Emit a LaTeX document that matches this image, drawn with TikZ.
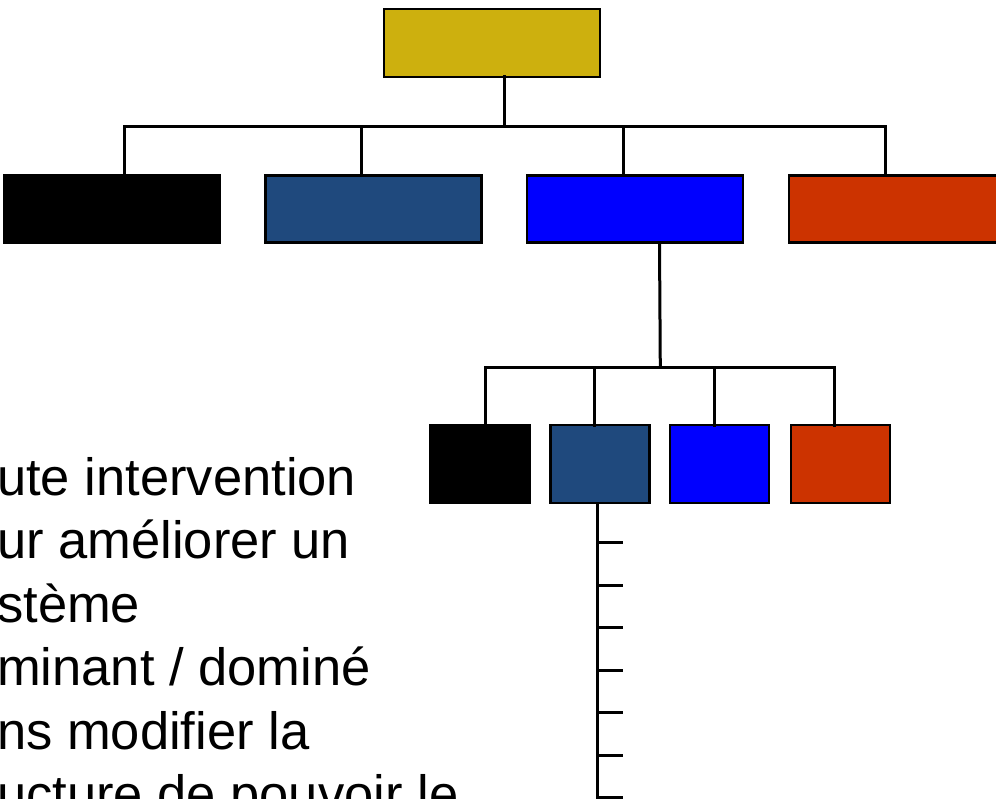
\documentclass[tikz,border=0pt]{standalone}
\usepackage{fontspec}
\setmainfont{Liberation Sans}
\definecolor{gold}{RGB}{205,176,14}
\definecolor{darkblue}{RGB}{31,73,125}
\definecolor{pureblue}{RGB}{0,0,255}
\definecolor{brick}{RGB}{204,51,0}
\begin{document}
\begin{tikzpicture}[x=1pt,y=-1pt,
  box/.style={draw=black,line width=2.2pt,inner sep=0pt,outer sep=0pt},
  wide/.style={box,minimum width=216pt,minimum height=67pt},
  small/.style={box,minimum width=99pt,minimum height=78pt},
  conn/.style={draw=black,line width=3pt,line cap=rect},
  txt/.style={anchor=base west,inner sep=0pt,font=\fontsize{52.5pt}{63.5pt}\selectfont}]
\useasboundingbox (0,0) rectangle (996,799);
\clip (0,0) rectangle (996,799);
% top
\node[box,fill=gold,minimum width=216pt,minimum height=68pt] (top) at (492,43) {};
% level 2
\node[wide,fill=black] (a1) at (112.3,209) {};
\node[wide,fill=darkblue] (a2) at (373.5,209) {};
\node[wide,fill=pureblue] (a3) at (635.3,209) {};
\node[wide,fill=brick] (a4) at (897,209) {};
% level 3
\node[small,fill=black] (c1) at (480,464) {};
\node[small,fill=darkblue] (c2) at (600,464) {};
\node[small,fill=pureblue] (c3) at (719.7,464) {};
\node[small,fill=brick] (c4) at (840.3,464) {};
% level 1 connectors
\coordinate (b0) at (504.3,126.5);
\coordinate (b1) at (124,126.5);
\coordinate (b2) at (361.3,126.5);
\coordinate (b3) at (623.7,126.5);
\coordinate (b4) at (885,126.5);
\draw[conn] (top.south -| b0) -- (b0);
\draw[conn] (b1 |- a1.north) -- (b1) -- (b4) -- (b4 |- a4.north);
\draw[conn] (b2) -- (b2 |- a2.north);
\draw[conn] (b3) -- (b3 |- a3.north);
% level 2 connectors
\coordinate (s0) at (659.5,243);
\coordinate (d0) at (660.3,367.3);
\coordinate (d1) at (485,367.3);
\coordinate (d2) at (594,367.3);
\coordinate (d3) at (714.3,367.3);
\coordinate (d4) at (834.3,367.3);
\draw[conn] (s0) -- (d0);
\draw[conn] (d1 |- c1.north) -- (d1) -- (d4) -- (d4 |- c4.north);
\draw[conn] (d2) -- (d2 |- c2.north);
\draw[conn] (d3) -- (d3 |- c3.north);
% list line with ticks
\coordinate (v0) at (597.7,503.5);
\coordinate (v1) at (597.7,797);
\coordinate (v2) at (621,797);
\draw[conn] (v0) -- (v1) -- (v2);
\foreach \yy [count=\i] in {542.3,585,627.3,670,712,755}{
  \coordinate (ta\i) at (597.7,\yy);
  \coordinate (tb\i) at (621,\yy);
  \draw[conn] (ta\i) -- (tb\i);
}
% text
\node[txt] (t1) at (-3,495) {ute intervention};
\node[txt] (t2) at (-3,558.5) {ur améliorer un};
\node[txt] (t3) at (-3,622) {stème};
\node[txt] (t4) at (-3,685.5) {minant / dominé};
\node[txt] (t5) at (-3,749) {ns modifier la};
\node[txt] (t6) at (-3,812.5) {ucture de pouvoir le};
\end{tikzpicture}
\end{document}
